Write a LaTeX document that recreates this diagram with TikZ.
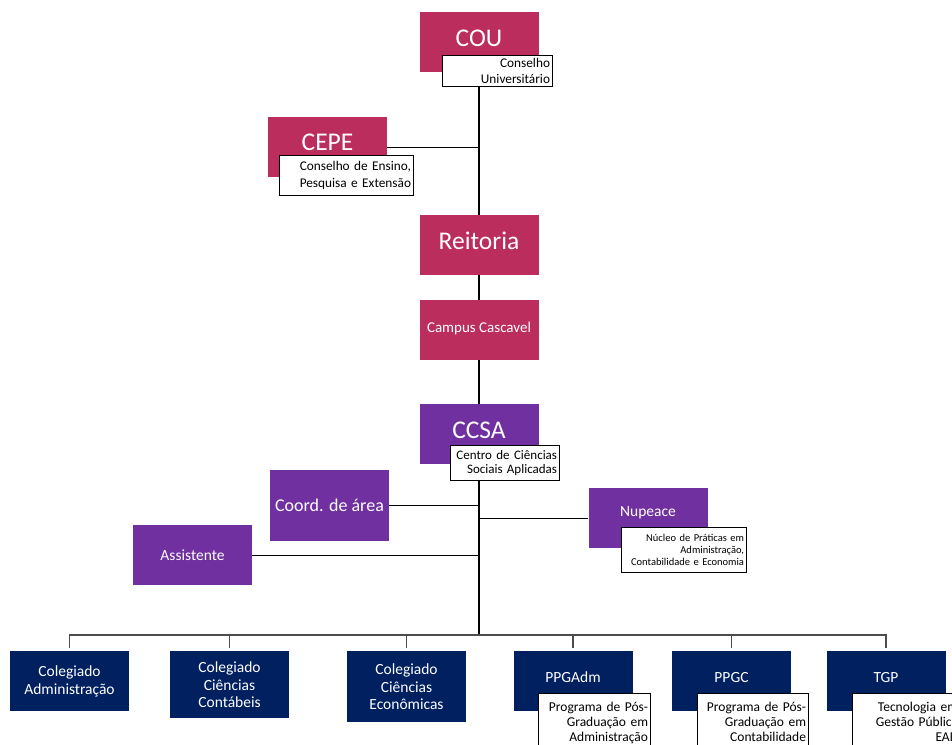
\documentclass[tikz,border=0pt]{standalone}
\usepackage{fontspec}
\setmainfont{Carlito}
\usetikzlibrary{backgrounds}

\definecolor{uniRed}{RGB}{187,45,92}
\definecolor{uniPurple}{RGB}{112,48,160}
\definecolor{uniNavy}{RGB}{0,32,96}

\tikzset{
  unit/.style={minimum width=119pt, minimum height=60pt, inner sep=0pt,
    text=white, align=center, anchor=north},
  redunit/.style={unit, fill=uniRed},
  purpleunit/.style={unit, fill=uniPurple},
  navyunit/.style={unit, fill=uniNavy, font=\fontsize{15.5}{17.5}\selectfont},
  bigtxt/.style={font=\fontsize{25.5}{28}\selectfont, text depth=8pt},
  note/.style={draw=black, fill=white, line width=1.1pt, align=right,
    inner xsep=2.5pt, inner ysep=1pt, anchor=north west, text=black},
  trunk/.style={line width=2pt, black},
  link/.style={line width=1.2pt, black},
  drop/.style={line width=1.3pt, black!70, shorten >=3pt}
}

\begin{document}
\begin{tikzpicture}[x=1pt, y=-1pt]

    % 1. Frame of the chart
    \useasboundingbox (0,0) rectangle (952,744);
    \clip (0,0) rectangle (952,744);

    % 2. University level
    \node[redunit, bigtxt] (cou) at (479,12) {COU};
    \node[note, text width=105pt, minimum height=31pt,
      font=\fontsize{13.3}{16}\selectfont] (coulbl) at (442,55)
      {Conselho\\Universitário};
    \node[redunit, bigtxt, text depth=9pt] (cepe) at (327.5,117) {CEPE};
    \node[note, text width=129pt, minimum height=40pt,
      font=\fontsize{13.3}{16.5}\selectfont] (cepelbl) at (279,155)
      {Conselho de Ensino,\\Pesquisa e Extensão};
    \node[redunit, bigtxt] (reitoria) at (479,215) {Reitoria};
    \node[redunit, font=\fontsize{15}{17}\selectfont, text depth=5pt] (campus) at (479,300)
      {Campus Cascavel};

    % 3. Centre level
    \node[purpleunit, bigtxt] (ccsa) at (479,404) {CCSA};
    \node[note, text width=104pt, minimum height=35pt,
      font=\fontsize{13}{13.5}\selectfont] (ccsalbl) at (450,445)
      {Centro de Ciências\\Sociais Aplicadas};
    \node[purpleunit, minimum height=71pt, font=\fontsize{18}{20}\selectfont] (coord) at (329.5,470)
      {Coord. de área};
    \node[purpleunit, font=\fontsize{15.5}{17}\selectfont, text depth=13pt] (nupeace) at (648,488)
      {Nupeace};
    \node[note, text width=120pt, minimum height=45pt,
      font=\fontsize{10.5}{11.8}\selectfont] (nuplbl) at (621,527)
      {Núcleo de Práticas em\\Administração,\\Contabilidade e Economia};
    \node[purpleunit, font=\fontsize{15.5}{17}\selectfont] (assist) at (192.5,525) {Assistente};

    % 4. Courses and programmes
    \node[navyunit] (colAdm) at (69.5,651) {Colegiado\\Administração};
    \node[navyunit, minimum height=67pt] (colCont) at (229.5,651) {Colegiado\\Ciências\\Contábeis};
    \node[navyunit, minimum height=71pt] (colEcon) at (406.5,651) {Colegiado\\Ciências\\Econômicas};
    \node[navyunit, text depth=8pt] (ppgadm) at (573,651) {PPGAdm};
    \node[navyunit, text depth=8pt] (ppgc) at (731.5,651) {PPGC};
    \node[navyunit, text depth=8pt] (tgp) at (886,651) {TGP};
    \node[note, text width=107pt, inner ysep=9pt,
      font=\fontsize{13.5}{15}\selectfont] (ppgadmlbl) at (538,693)
      {Programa de Pós-\\Graduação em\\Administração};
    \node[note, text width=106pt, inner ysep=9pt,
      font=\fontsize{13.5}{15}\selectfont] (ppgclbl) at (697,693)
      {Programa de Pós-\\Graduação em\\Contabilidade};
    \node[note, text width=103pt, inner ysep=9pt,
      font=\fontsize{13.5}{15}\selectfont] (tgplbl) at (852,693)
      {Tecnologia em\\Gestão Pública\\EAD};

    % 5. Connectors, kept behind the boxes
    \coordinate (bus) at (479,635);
    \begin{scope}[on background layer]
      \draw[trunk] (cou.south) -- (reitoria.north);
      \draw[link] (cepe.east) -- (cepe.east -| cou.south);
      \draw[trunk] (reitoria) -- (campus);
      \draw[trunk] (campus) -- (ccsa);
      \draw[trunk] (ccsa.south) -- (bus);
      \draw[link] (coord.east) -- (coord.east -| ccsa.south);
      \draw[link] (nupeace.west) -- (nupeace.west -| ccsa.south);
      \draw[link] (assist.east) -- (assist.east -| ccsa.south);
      \foreach \u in {colAdm,colCont,colEcon,ppgadm,ppgc,tgp}
        \draw[drop] (bus) -| (\u.north);
    \end{scope}

\end{tikzpicture}
\end{document}
